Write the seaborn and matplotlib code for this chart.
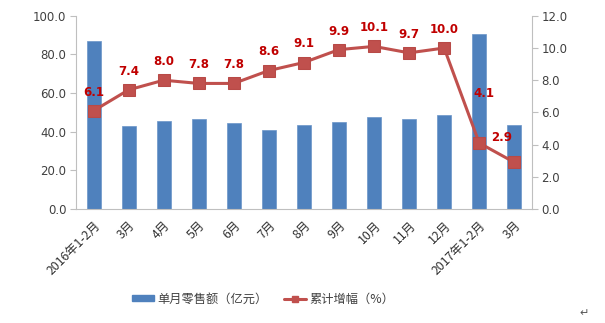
import matplotlib
matplotlib.use("Agg")
import matplotlib.pyplot as plt
import seaborn as sns
import numpy as np
import pandas as pd
from matplotlib.lines import Line2D
from matplotlib.patches import Patch

categories = ["2016年1-2月", "3月", "4月", "5月", "6月", "7月", "8月", "9月",
              "10月", "11月", "12月", "2017年1-2月", "3月"]
sales = [86.8, 43.1, 45.4, 46.4, 44.3, 41.0, 43.6, 45.0, 47.4, 46.7, 48.6, 90.4, 43.3]
growth = [6.1, 7.4, 8.0, 7.8, 7.8, 8.6, 9.1, 9.9, 10.1, 9.7, 10.0, 4.1, 2.9]
growth_labels = ["6.1", "7.4", "8.0", "7.8", "7.8", "8.6", "9.1", "9.9", "10.1", "9.7", "10.0", "4.1", "2.9"]
legend_labels = ["单月零售额（亿元）", "累计增幅（%）"]

sns.set_style("white")
plt.rcParams['font.family'] = ['Noto Sans CJK SC', 'DejaVu Sans']

BAR = "#4F81BD"
LINE = "#C0504D"
LBL = "#C00000"
TXT = "#404040"
SPINE = "#BFBFBF"

fig = plt.figure(figsize=(6.05, 3.23), dpi=100)
ax = fig.add_axes([0.1256, 0.353, 0.7534, 0.598])

pos = np.arange(len(categories))
df = pd.DataFrame({"pos": pos, "sales": sales, "growth": growth})
sns.barplot(data=df, x="pos", y="sales", color=BAR, width=0.4, ax=ax,
            saturation=1, native_scale=True, edgecolor="#6A94C8", linewidth=0.5)
ax.set_xlim(-0.5, len(categories) - 0.5)
ax.set_ylim(0, 100)
ax.set_yticks(np.arange(0, 101, 20))
ax.set_yticklabels([f"{v:.1f}" for v in np.arange(0, 101, 20)], fontsize=8.5, color=TXT,
                   family=['DejaVu Sans'])
ax.set_xlabel("")
ax.set_ylabel("")
ax.set_xticks(pos)
ax.set_xticklabels(categories, rotation=45, ha="right", va="top", rotation_mode="anchor",
                   fontsize=8.8, color="#303030")
ax.set_xticks(np.arange(-0.5, len(categories), 1), minor=True)
ax.tick_params(axis="x", which="major", length=0, pad=7)
ax.tick_params(axis="x", which="minor", length=4, color=SPINE, width=0.8, direction="out")
ax.tick_params(axis="y", length=4, color=SPINE, width=0.8, direction="out", left=True, pad=3)
for s in ["top", "right"]:
    ax.spines[s].set_visible(False)
for s in ["left", "bottom"]:
    ax.spines[s].set_color(SPINE)
    ax.spines[s].set_linewidth(0.8)

ax2 = ax.twinx()
sns.lineplot(data=df, x="pos", y="growth", ax=ax2, color=LINE, linewidth=2.2,
             marker="s", markersize=9, markeredgecolor="#B84A47", markerfacecolor=LINE)
ax2.set_ylim(0, 12)
ax2.set_xlim(-0.5, len(categories) - 0.5)
ax2.set_yticks(np.arange(0, 12.1, 2))
ax2.set_yticklabels([f"{v:.1f}" for v in np.arange(0, 12.1, 2)], fontsize=8.5, color=TXT,
                    family=['DejaVu Sans'])
ax2.set_ylabel("")
ax2.set_xlabel("")
ax2.tick_params(axis="y", length=4, color=SPINE, width=0.8, direction="out", right=True, pad=3)
for s in ["top", "left", "bottom"]:
    ax2.spines[s].set_visible(False)
ax2.spines["right"].set_color(SPINE)
ax2.spines["right"].set_linewidth(0.8)

offsets = {11: (3.6, 31), 12: (-9.4, 13.5)}
for i, (g, t) in enumerate(zip(growth, growth_labels)):
    dx, dy = offsets.get(i, (0, 8.7))
    ax2.annotate(t, (i, g), xytext=(dx, dy), textcoords="offset points",
                 ha="center", va="bottom", color=LBL, fontsize=8.5, fontweight="bold",
                 family=['DejaVu Sans'])

handles = [Patch(facecolor=BAR, edgecolor=BAR),
           Line2D([0], [0], color=LINE, linewidth=2.2, marker="s", markersize=5,
                  markerfacecolor=LINE)]
fig.legend(handles, legend_labels, loc="center", bbox_to_anchor=(0.435, 0.074), ncol=2,
           frameon=False, fontsize=8.8, handlelength=1.8, handleheight=0.4,
           columnspacing=1.4, handletextpad=0.25, labelcolor=TXT)

fig.text(0.957, 0.02, "↵", fontsize=8, color="#555555", family=['DejaVu Sans'])

fig.savefig("out.png", dpi=100)
